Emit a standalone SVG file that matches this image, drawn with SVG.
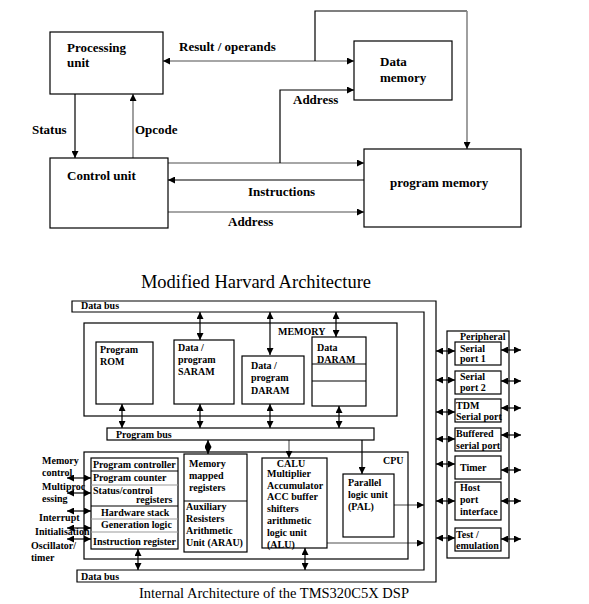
<svg xmlns="http://www.w3.org/2000/svg" width="589" height="604" viewBox="0 0 589 604">
<style>
.box{fill:#fff;stroke:#000;stroke-width:1.2}
.nf{fill:none;stroke:#000;stroke-width:1.2}
.t{font-family:"Liberation Serif",serif;font-weight:bold;font-size:13px;fill:#000}
.s{font-family:"Liberation Serif",serif;font-weight:bold;font-size:10px;fill:#000}
.ttl{font-family:"Liberation Serif",serif;font-size:18.5px;fill:#000}
.k{stroke:#000;stroke-width:1.2;fill:none}
.g{stroke:#888;stroke-width:1.6;fill:none}
.a{marker-end:url(#ah)}
.d{marker-start:url(#ah);marker-end:url(#ah)}
.gl{stroke:#999;stroke-width:1.2}
</style>
<defs>
<marker id="ah" viewBox="0 0 10 10" refX="10" refY="5" markerWidth="7" markerHeight="7" markerUnits="userSpaceOnUse" orient="auto-start-reverse">
<path d="M0,0 L10,5 L0,10 z" fill="#000"/>
</marker>
</defs>
<rect width="589" height="604" fill="#fff"/>

<g id="connectors">
<line class="g d" x1="163" y1="61" x2="354" y2="61"/>
<path class="k" d="M315,61 V11 H467"/>
<line class="g a" x1="467" y1="11" x2="467" y2="149"/>
<line class="g a" x1="168" y1="163" x2="364" y2="163"/>
<path class="k a" d="M280,163 V90 H354"/>
<line class="k a" x1="364" y1="180" x2="168" y2="180"/>
<line class="g a" x1="168" y1="212" x2="364" y2="212"/>
<line class="k a" x1="75" y1="94" x2="75" y2="158"/>
<line class="g a" x1="133" y1="158" x2="133" y2="94"/>
<line class="k d" x1="200" y1="312" x2="200" y2="340"/>
<line class="k d" x1="270" y1="312" x2="270" y2="355"/>
<line class="k d" x1="336" y1="312" x2="336" y2="337"/>
<line class="k d" x1="122" y1="404" x2="122" y2="428"/>
<line class="k d" x1="200" y1="404" x2="200" y2="428"/>
<line class="k d" x1="270" y1="404" x2="270" y2="428"/>
<line class="k d" x1="339" y1="406" x2="339" y2="428"/>
<line class="k d" x1="208" y1="440" x2="208" y2="454"/>
<line class="g a" x1="289" y1="440" x2="289" y2="458"/>
<line class="k a" x1="362" y1="440" x2="362" y2="474"/>
<line class="g a" x1="394" y1="505" x2="424" y2="505"/>
<line class="g a" x1="327" y1="543" x2="424" y2="543"/>
<line class="k d" x1="305" y1="548" x2="305" y2="570"/>
<line class="k d" x1="138" y1="549" x2="138" y2="570"/>
<line class="k d" x1="67" y1="478" x2="91" y2="478"/>
<line class="k d" x1="67" y1="493" x2="91" y2="493"/>
<line class="k d" x1="67" y1="511" x2="91" y2="511"/>
<line class="k d" x1="67" y1="528" x2="91" y2="528"/>
<line class="k d" x1="67" y1="539" x2="91" y2="539"/>
<line class="k d" x1="436" y1="351" x2="455" y2="351"/>
<line class="k d" x1="436" y1="380" x2="455" y2="380"/>
<line class="k d" x1="436" y1="412" x2="455" y2="412"/>
<line class="k d" x1="436" y1="439" x2="455" y2="439"/>
<line class="k d" x1="436" y1="464" x2="455" y2="464"/>
<line class="k d" x1="436" y1="501" x2="455" y2="501"/>
<line class="k d" x1="436" y1="538" x2="455" y2="538"/>
<line class="k d" x1="501" y1="350" x2="521" y2="350"/>
<line class="k d" x1="501" y1="381" x2="521" y2="381"/>
<line class="k d" x1="501" y1="408" x2="521" y2="408"/>
<line class="k d" x1="501" y1="435" x2="521" y2="435"/>
<line class="k d" x1="501" y1="470" x2="521" y2="470"/>
<line class="k d" x1="501" y1="501" x2="521" y2="501"/>
<line class="k d" x1="501" y1="539" x2="521" y2="539"/>
</g>

<g id="processing-unit">
<rect class="box" x="50" y="32" width="113" height="62"/>
<text class="t" x="67" y="52">Processing</text>
<text class="t" x="67" y="67">unit</text>
</g>
<g id="data-memory">
<rect class="box" x="354" y="41" width="98" height="59"/>
<text class="t" x="380" y="66">Data</text>
<text class="t" x="380" y="82">memory</text>
</g>
<g id="control-unit">
<rect class="box" x="50" y="158" width="118" height="70"/>
<text class="t" x="67" y="180">Control unit</text>
</g>
<g id="program-memory">
<rect class="box" x="364" y="149" width="157" height="78"/>
<text class="t" x="390" y="187">program memory</text>
</g>
<g id="top-labels">
<text class="t" x="179" y="51">Result / operands</text>
<text class="t" x="293" y="104">Address</text>
<text class="t" x="248" y="196">Instructions</text>
<text class="t" x="228" y="226">Address</text>
<text class="t" x="32" y="134">Status</text>
<text class="t" x="135" y="134">Opcode</text>
</g>
<text class="ttl" x="256" y="288" text-anchor="middle">Modified Harvard Architecture</text>

<g id="data-bus">
<path class="box" d="M72,301 H436 V582 H77 V570 H424 V312 H72 Z"/>
<text class="s" x="81" y="309">Data bus</text>
<text class="s" x="81" y="580">Data bus</text>
</g>
<g id="memory">
<rect class="nf" x="84" y="323" width="313" height="93"/>
<text class="s" x="278" y="335">MEMORY</text>
</g>
<g id="program-rom">
<rect class="box" x="96" y="342" width="57" height="62"/>
<text class="s" x="100" y="353">Program</text>
<text class="s" x="100" y="365">ROM</text>
</g>
<g id="saram">
<rect class="box" x="174" y="340" width="60" height="64"/>
<text class="s" x="178" y="351">Data /</text>
<text class="s" x="178" y="363">program</text>
<text class="s" x="178" y="375">SARAM</text>
</g>
<g id="daram">
<rect class="box" x="242" y="356" width="62" height="48"/>
<text class="s" x="251" y="369">Data /</text>
<text class="s" x="251" y="381">program</text>
<text class="s" x="251" y="394">DARAM</text>
</g>
<g id="data-daram">
<rect class="box" x="312" y="337" width="54" height="69"/>
<line class="k" x1="312" y1="364" x2="366" y2="364"/>
<line class="k" x1="312" y1="381" x2="366" y2="381"/>
<text class="s" x="317" y="351">Data</text>
<text class="s" x="317" y="363">DARAM</text>
</g>
<g id="program-bus">
<rect class="box" x="107" y="428" width="267" height="12"/>
<text class="s" x="116" y="438">Program bus</text>
</g>
<g id="cpu">
<rect class="nf" x="84" y="452" width="324" height="107"/>
<text class="s" x="383" y="464">CPU</text>
</g>
<g id="program-controller">
<rect class="box" x="91" y="458" width="87" height="91"/>
<line class="k" x1="91" y1="471" x2="178" y2="471"/>
<line class="gl" x1="91" y1="485" x2="178" y2="485"/>
<line class="k" x1="91" y1="506" x2="178" y2="506"/>
<line class="gl" x1="91" y1="519" x2="178" y2="519"/>
<line class="gl" x1="91" y1="532" x2="178" y2="532"/>
<text class="s" x="93" y="468">Program controller</text>
<text class="s" x="93" y="481">Program counter</text>
<text class="s" x="93" y="494">Status/control</text>
<text class="s" x="136" y="503">registers</text>
<text class="s" x="101" y="516">Hardware stack</text>
<text class="s" x="101" y="528">Generation logic</text>
<text class="s" x="93" y="545">Instruction register</text>
</g>
<g id="memory-mapped-registers">
<rect class="box" x="184" y="454" width="63" height="98"/>
<line class="k" x1="184" y1="501" x2="247" y2="501"/>
<text class="s" x="189" y="467">Memory</text>
<text class="s" x="189" y="479">mapped</text>
<text class="s" x="189" y="491">registers</text>
<text class="s" x="186" y="510">Auxiliary</text>
<text class="s" x="186" y="522">Resisters</text>
<text class="s" x="186" y="534">Arithmetic</text>
<text class="s" x="186" y="546">Unit (ARAU)</text>
</g>
<g id="calu">
<rect class="box" x="262" y="458" width="65" height="90"/>
<text class="s" x="291" y="467" text-anchor="middle">CALU</text>
<text class="s" x="267" y="477">Multiplier</text>
<text class="s" x="267" y="489">Accumulator</text>
<text class="s" x="267" y="500">ACC buffer</text>
<text class="s" x="267" y="512">shifters</text>
<text class="s" x="267" y="524">arithmetic</text>
<text class="s" x="267" y="536">logic unit</text>
<text class="s" x="267" y="548">(ALU)</text>
</g>
<g id="pal">
<rect class="box" x="343" y="474" width="51" height="63"/>
<text class="s" x="348" y="486">Parallel</text>
<text class="s" x="348" y="498">logic unit</text>
<text class="s" x="348" y="510">(PAL)</text>
</g>
<g id="left-signals">
<text class="s" x="42" y="464">Memory</text>
<text class="s" x="42" y="476">control</text>
<text class="s" x="42" y="490">Multiproc</text>
<text class="s" x="42" y="502">essing</text>
<text class="s" x="39" y="521">Interrupt</text>
<text class="s" x="35" y="535">Initialisation</text>
<text class="s" x="31" y="549">Oscillator/</text>
<text class="s" x="31" y="561">timer</text>
</g>
<g id="peripheral">
<rect class="nf" x="447" y="331" width="62" height="227"/>
<text class="s" x="460" y="340">Peripheral</text>
</g>
<g id="serial-port-1">
<rect class="box" x="455" y="342" width="46" height="23"/>
<text class="s" x="460" y="352">Serial</text>
<text class="s" x="460" y="362">port 1</text>
</g>
<g id="serial-port-2">
<rect class="box" x="455" y="371" width="46" height="23"/>
<text class="s" x="460" y="380">Serial</text>
<text class="s" x="460" y="391">port 2</text>
</g>
<g id="tdm-serial-port">
<rect class="box" x="455" y="399" width="46" height="23"/>
<text class="s" x="456" y="409">TDM</text>
<text class="s" x="456" y="420">Serial port</text>
</g>
<g id="buffered-serial-port">
<rect class="box" x="455" y="428" width="46" height="23"/>
<text class="s" x="456" y="437">Buffered</text>
<text class="s" x="456" y="449">serial port</text>
</g>
<g id="timer">
<rect class="box" x="455" y="456" width="46" height="23"/>
<text class="s" x="460" y="471">Timer</text>
</g>
<g id="host-port-interface">
<rect class="box" x="455" y="482" width="46" height="38"/>
<text class="s" x="460" y="491">Host</text>
<text class="s" x="460" y="503">port</text>
<text class="s" x="460" y="515">interface</text>
</g>
<g id="test-emulation">
<rect class="box" x="455" y="528" width="46" height="23"/>
<text class="s" x="456" y="538">Test /</text>
<text class="s" x="456" y="549">emulation</text>
</g>
<text class="ttl" x="274" y="598" text-anchor="middle" style="font-size:14.5px">Internal Architecture of the TMS320C5X DSP</text>
</svg>
